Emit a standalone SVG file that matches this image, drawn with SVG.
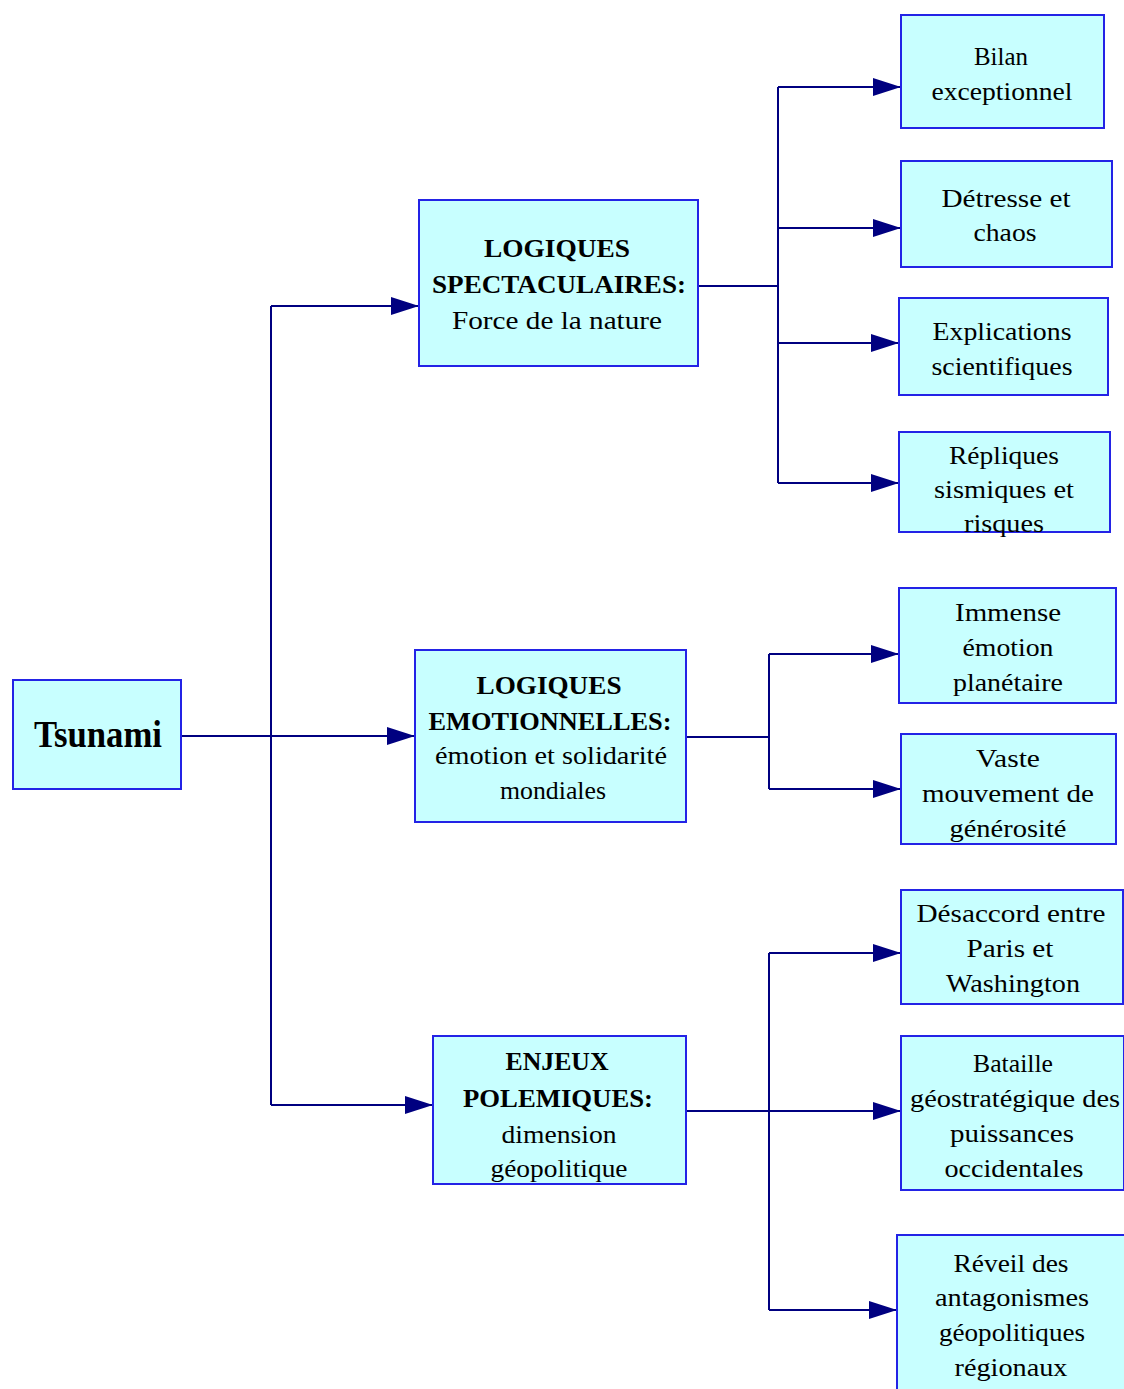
<svg xmlns="http://www.w3.org/2000/svg" width="1124" height="1389" viewBox="0 0 1124 1389">
<style>
.box{fill:#c8ffff;stroke:#2323e6;stroke-width:2}
.t{font-family:"Liberation Serif","Times New Roman",serif;font-size:26px;fill:#000;text-anchor:middle}
.b{font-weight:bold}
.c{fill:none;stroke:#000080;stroke-width:2}
</style>
<defs>
<marker id="ar" markerUnits="userSpaceOnUse" markerWidth="28" markerHeight="18" refX="28" refY="9" orient="auto" viewBox="0 0 28 18">
<path d="M0,0 L28,9 L0,18 z" fill="#000080"/>
</marker>
</defs>
<rect width="1124" height="1389" fill="#fff"/>
<g id="connectors">
<path class="c" d="M181,736 H271 M271,306 V1105"/>
<path class="c" d="M271,736 H415" marker-end="url(#ar)"/>
<path class="c" d="M271,306 H419" marker-end="url(#ar)"/>
<path class="c" d="M271,1105 H433" marker-end="url(#ar)"/>
<path class="c" d="M698,286 H778 M778,87 V483"/>
<path class="c" d="M778,87 H901" marker-end="url(#ar)"/>
<path class="c" d="M778,228 H901" marker-end="url(#ar)"/>
<path class="c" d="M778,343 H899" marker-end="url(#ar)"/>
<path class="c" d="M778,483 H899" marker-end="url(#ar)"/>
<path class="c" d="M686,737 H769 M769,654 V789"/>
<path class="c" d="M769,654 H899" marker-end="url(#ar)"/>
<path class="c" d="M769,789 H901" marker-end="url(#ar)"/>
<path class="c" d="M769,953 V1310"/>
<path class="c" d="M686,1111 H901" marker-end="url(#ar)"/>
<path class="c" d="M769,953 H901" marker-end="url(#ar)"/>
<path class="c" d="M769,1310 H897" marker-end="url(#ar)"/>
</g>
<g id="tsunami">
<rect class="box" x="13" y="680" width="168" height="109"/>
<text class="t b" x="98" y="747" style="font-size:38px" textLength="128" lengthAdjust="spacingAndGlyphs">Tsunami</text>
</g>
<g id="logiques-spectaculaires">
<rect class="box" x="419" y="200" width="279" height="166"/>
<text class="t b" x="557" y="257" textLength="146" lengthAdjust="spacingAndGlyphs">LOGIQUES</text>
<text class="t b" x="559" y="293" textLength="254" lengthAdjust="spacingAndGlyphs">SPECTACULAIRES:</text>
<text class="t" x="557" y="329" textLength="210" lengthAdjust="spacingAndGlyphs">Force de la nature</text>
</g>
<g id="logiques-emotionnelles">
<rect class="box" x="415" y="650" width="271" height="172"/>
<text class="t b" x="549" y="694" textLength="145" lengthAdjust="spacingAndGlyphs">LOGIQUES</text>
<text class="t b" x="550" y="730" textLength="243" lengthAdjust="spacingAndGlyphs">EMOTIONNELLES:</text>
<text class="t" x="551" y="764" textLength="232" lengthAdjust="spacingAndGlyphs">émotion et solidarité</text>
<text class="t" x="553" y="799" textLength="106" lengthAdjust="spacingAndGlyphs">mondiales</text>
</g>
<g id="enjeux-polemiques">
<rect class="box" x="433" y="1036" width="253" height="148"/>
<text class="t b" x="557" y="1070" textLength="103" lengthAdjust="spacingAndGlyphs">ENJEUX</text>
<text class="t b" x="558" y="1107" textLength="190" lengthAdjust="spacingAndGlyphs">POLEMIQUES:</text>
<text class="t" x="559" y="1143" textLength="115" lengthAdjust="spacingAndGlyphs">dimension</text>
<text class="t" x="559" y="1177" textLength="137" lengthAdjust="spacingAndGlyphs">géopolitique</text>
</g>
<g id="bilan">
<rect class="box" x="901" y="15" width="203" height="113"/>
<text class="t" x="1001" y="65" textLength="54" lengthAdjust="spacingAndGlyphs">Bilan</text>
<text class="t" x="1002" y="100" textLength="141" lengthAdjust="spacingAndGlyphs">exceptionnel</text>
</g>
<g id="detresse">
<rect class="box" x="901" y="161" width="211" height="106"/>
<text class="t" x="1006" y="207" textLength="129" lengthAdjust="spacingAndGlyphs">Détresse et</text>
<text class="t" x="1005" y="241" textLength="63" lengthAdjust="spacingAndGlyphs">chaos</text>
</g>
<g id="explications">
<rect class="box" x="899" y="298" width="209" height="97"/>
<text class="t" x="1002" y="340" textLength="139" lengthAdjust="spacingAndGlyphs">Explications</text>
<text class="t" x="1002" y="375" textLength="141" lengthAdjust="spacingAndGlyphs">scientifiques</text>
</g>
<g id="repliques">
<rect class="box" x="899" y="432" width="211" height="100"/>
<text class="t" x="1004" y="464" textLength="110" lengthAdjust="spacingAndGlyphs">Répliques</text>
<text class="t" x="1004" y="498" textLength="140" lengthAdjust="spacingAndGlyphs">sismiques et</text>
<text class="t" x="1004" y="532" textLength="80" lengthAdjust="spacingAndGlyphs">risques</text>
</g>
<g id="immense-emotion">
<rect class="box" x="899" y="588" width="217" height="115"/>
<text class="t" x="1008" y="621" textLength="106" lengthAdjust="spacingAndGlyphs">Immense</text>
<text class="t" x="1008" y="656" textLength="91" lengthAdjust="spacingAndGlyphs">émotion</text>
<text class="t" x="1008" y="691" textLength="110" lengthAdjust="spacingAndGlyphs">planétaire</text>
</g>
<g id="vaste-mouvement">
<rect class="box" x="901" y="734" width="215" height="110"/>
<text class="t" x="1008" y="767" textLength="64" lengthAdjust="spacingAndGlyphs">Vaste</text>
<text class="t" x="1008" y="802" textLength="172" lengthAdjust="spacingAndGlyphs">mouvement de</text>
<text class="t" x="1008" y="837" textLength="117" lengthAdjust="spacingAndGlyphs">générosité</text>
</g>
<g id="desaccord">
<rect class="box" x="901" y="890" width="222" height="114"/>
<text class="t" x="1011" y="922" textLength="189" lengthAdjust="spacingAndGlyphs">Désaccord entre</text>
<text class="t" x="1010" y="957" textLength="87" lengthAdjust="spacingAndGlyphs">Paris et</text>
<text class="t" x="1013" y="992" textLength="134" lengthAdjust="spacingAndGlyphs">Washington</text>
</g>
<g id="bataille">
<rect class="box" x="901" y="1036" width="223" height="154"/>
<text class="t" x="1013" y="1072" textLength="80" lengthAdjust="spacingAndGlyphs">Bataille</text>
<text class="t" x="1015" y="1107" textLength="210" lengthAdjust="spacingAndGlyphs">géostratégique des</text>
<text class="t" x="1012" y="1142" textLength="124" lengthAdjust="spacingAndGlyphs">puissances</text>
<text class="t" x="1014" y="1177" textLength="139" lengthAdjust="spacingAndGlyphs">occidentales</text>
</g>
<g id="reveil">
<rect class="box" x="897" y="1235" width="230" height="160"/>
<text class="t" x="1011" y="1272" textLength="115" lengthAdjust="spacingAndGlyphs">Réveil des</text>
<text class="t" x="1012" y="1306" textLength="154" lengthAdjust="spacingAndGlyphs">antagonismes</text>
<text class="t" x="1012" y="1341" textLength="146" lengthAdjust="spacingAndGlyphs">géopolitiques</text>
<text class="t" x="1011" y="1376" textLength="113" lengthAdjust="spacingAndGlyphs">régionaux</text>
</g>
</svg>
